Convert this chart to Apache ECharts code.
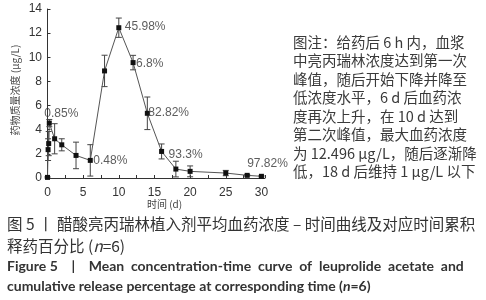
<!DOCTYPE html>
<html>
<head>
<meta charset="utf-8">
<script src="https://cdn.jsdelivr.net/npm/echarts@6/dist/echarts.min.js"></script>
<style>
  html, body { margin: 0; padding: 0; background: #fff; }
  #chart { width: 486px; height: 300px; }
</style>
</head>
<body>
<div id="chart"></div>
<script>
// 时间 (d)
var times = [0, 0.083, 0.167, 0.25, 1, 2, 4, 6, 8, 10, 12, 14, 16, 18, 20, 25, 28, 30];
// 平均血药浓度 (μg/L)
var conc = [0.05, 2.35, 2.85, 4.55, 3.25, 2.75, 1.87, 1.46, 8.87, 12.45, 9.56, 5.36, 2.2, 0.74, 0.55, 0.41, 0.22, 0.14];
// 标准差
var sd = [0.05, 0.9, 1.0, 0.3, 1.25, 0.5, 1.1, 1.3, 1.3, 0.8, 0.6, 1.35, 0.62, 0.65, 0.45, 0.22, 0.06, 0.05];
// 累积释药百分比标注
var pctTimes = [0.25, 6, 10, 12, 14, 16, 28];
var pctTexts = ['0.85%', '0.48%', '45.98%', '6.8%', '82.82%', '93.3%', '97.82%'];
var pctOffsets = [[-5, -9], [3, 0], [6, -1], [3, 1], [1, -1], [7, 3], [0, -12]];
var yTicks = [0, 14, 2];
var xTicks = [0, 30.5, 5];
var xLabels = [0, 5, 10, 15, 20, 25, 30];

var noteLines = [
    '图注：给药后 6 h 内，血浆',
    '中亮丙瑞林浓度达到第一次',
    '峰值，随后开始下降并降至',
    '低浓度水平，6 d 后血药浓',
    '度再次上升，在 10 d 达到',
    '第二次峰值，最大血药浓度',
    '为 12.496 μg/L，随后逐渐降',
    '低，18 d 后维持 1 μg/L 以下'
];

var chart = echarts.init(document.getElementById('chart'));
var narrow = "'Liberation Sans Narrow', 'Liberation Sans', sans-serif";
var cjk = "'Noto Sans CJK SC', sans-serif";

var lineData = times.map(function (t, i) { return [t, conc[i]]; });
var errData = times.map(function (t, i) { return [t, conc[i] - sd[i], conc[i] + sd[i]]; });
var pctData = pctTimes.map(function (t, i) {
    var k = times.indexOf(t);
    return {
        value: [t, conc[k]],
        label: { formatter: pctTexts[i], offset: pctOffsets[i] }
    };
});

var graphics = noteLines.map(function (s, i) {
    return {
        type: 'text', x: 293, y: 35 + i * 18.5,
        style: { text: s, font: '14.5px ' + cjk, fill: '#3a3a3a' }
    };
});
graphics.push({
    type: 'text', x: 147, y: 199,
    style: { text: '时间 (d)', font: '10px ' + cjk, fill: '#444' }
});
graphics.push({
    type: 'text', x: 15, y: 90, rotation: Math.PI / 2,
    style: { text: '药物质量浓度 (μg/L)', font: '10px ' + cjk, fill: '#444', align: 'center', verticalAlign: 'middle' }
});
graphics.push({
    type: 'text', x: 7, y: 216,
    style: { text: '图 5 丨 醋酸亮丙瑞林植入剂平均血药浓度 – 时间曲线及对应时间累积', font: '15.5px ' + cjk, fill: '#333' }
});
graphics.push({
    type: 'text', x: 7, y: 238,
    style: {
        text: '释药百分比 ({i|n}=6)', font: '15.5px ' + cjk, fill: '#333',
        rich: { i: { fontStyle: 'italic', fontSize: 15.5, fontFamily: cjk, fill: '#333' } }
    }
});
graphics.push({
    type: 'text', x: 7, y: 259,
    style: { text: 'Figure 5    |    Mean  concentration-time  curve  of  leuprolide  acetate  and', font: 'bold 14px Lato, sans-serif', fill: '#333' }
});
graphics.push({
    type: 'text', x: 7, y: 279,
    style: {
        text: 'cumulative release percentage at corresponding time ({i|n}=6)', font: 'bold 14px Lato, sans-serif', fill: '#333',
        rich: { i: { fontStyle: 'italic', fontWeight: 'bold', fontSize: 14, fontFamily: 'Lato', fill: '#333' } }
    }
});

var option = {
    backgroundColor: '#fff',
    animation: false,
    grid: { left: 47.5, right: 221, top: 9, bottom: 122 },
    xAxis: {
        type: 'value',
        min: xTicks[0], max: xTicks[1], interval: xTicks[2],
        offset: 5,
        axisLine: { lineStyle: { color: '#333', width: 1 } },
        axisTick: { inside: true, length: 3, lineStyle: { color: '#333' } },
        minorTick: { show: true, splitNumber: 2, length: 3, lineStyle: { color: '#333' } },
        axisLabel: { color: '#333', fontFamily: narrow, fontSize: 12, margin: 4, customValues: xLabels },
        splitLine: { show: false }
    },
    yAxis: {
        type: 'value',
        min: yTicks[0], max: yTicks[1], interval: yTicks[2],
        offset: 2.5,
        axisLine: { show: true, lineStyle: { color: '#333', width: 1 } },
        axisTick: { show: true, inside: true, length: 3, lineStyle: { color: '#333' } },
        axisLabel: { color: '#333', fontFamily: narrow, fontSize: 12, margin: 3 },
        splitLine: { show: false }
    },
    graphic: graphics,
    series: [
        {
            type: 'custom',
            data: errData,
            clip: false,
            z: 2,
            renderItem: function (params, api) {
                var x = api.value(0);
                var lo = api.coord([x, api.value(1)]);
                var hi = api.coord([x, api.value(2)]);
                var w = 3;
                var st = { stroke: '#444', lineWidth: 1 };
                return {
                    type: 'group',
                    children: [
                        { type: 'line', shape: { x1: lo[0], y1: lo[1], x2: hi[0], y2: hi[1] }, style: st },
                        { type: 'line', shape: { x1: lo[0] - w, y1: lo[1], x2: lo[0] + w, y2: lo[1] }, style: st },
                        { type: 'line', shape: { x1: hi[0] - w, y1: hi[1], x2: hi[0] + w, y2: hi[1] }, style: st }
                    ]
                };
            }
        },
        {
            type: 'line',
            data: lineData,
            clip: false,
            z: 3,
            symbol: 'rect',
            symbolSize: 5,
            itemStyle: { color: '#111' },
            lineStyle: { color: '#555', width: 1 }
        },
        {
            type: 'scatter',
            data: pctData,
            symbolSize: 0,
            z: 4,
            silent: true,
            label: {
                show: true, position: 'right', distance: 0,
                color: '#333', fontFamily: narrow, fontSize: 12
            }
        }
    ]
};
chart.setOption(option);
</script>
</body>
</html>
